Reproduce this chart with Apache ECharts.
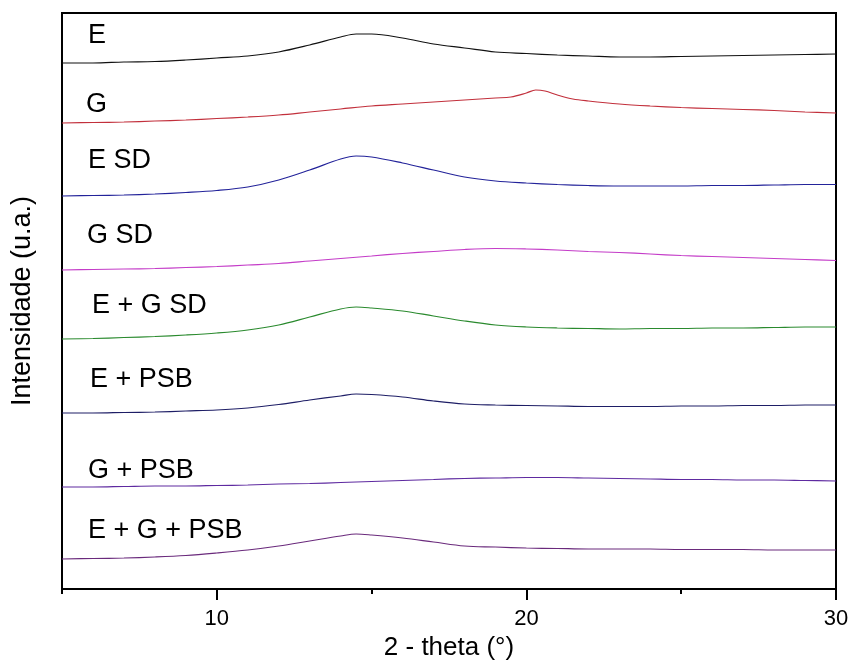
<!DOCTYPE html>
<html>
<head>
<meta charset="utf-8">
<script src="https://cdn.jsdelivr.net/npm/echarts@6/dist/echarts.min.js"></script>
<style>html,body{margin:0;padding:0;background:#fff}#c{width:850px;height:661px}</style>
</head>
<body>
<div id="c"></div>
<script>
// 2-theta positions (degrees)
var theta = [5,6,7,8,9,10,11,12,13,14,14.5,15,16,17,18,19,20,21,22,23,24,25,26,27,28,29,30];
var thetaG = [5,6,7,8,9,10,11,12,13,14,15,16,17,18,19,19.5,20,20.3,20.6,21,21.5,22,23,24,25,26,27,28,29,30];
var thetaGSD = [5,6,7,8,9,10,11,12,13,14,15,16,17,18,19,20,21,22,23,24,25,26,27,28,29,30];

// intensities (u.a., stacked offsets as in figure)
var iE     = [526,526,527,527.5,529,531,533,537,544,552,555,555,551,545,541,537,535.5,534,533,532,532,532.5,533,533.5,534,534.5,535];
var iG     = [466,466.5,467,468,469,470.5,472,474,477,480,483,485,487,489,491,492,496,499,498,494,490,488,485,483,481.5,480.5,479.5,478.5,477,476];
var iESD   = [393,393.5,394,395,396.5,398.5,402,409,419,430,433,432,426,419,412,408,406,404.5,403.5,403,403,403,403.5,403.5,404,404.5,404.5];
var iGSD   = [319,319.5,320,320.5,321.5,322.5,324,325.5,328,330.5,333,335.5,337.5,339.5,340.5,340,339,337.5,336.5,335,333.5,332.5,331.5,330.5,329.5,328.5];
var iEGSD  = [250,250.5,251.5,252.5,254,256,259,264,272,280,282,281,278,273,268,264,262,261,260.5,260,260.5,260.5,261,261,261.5,262,262];
var iEPSB  = [176,176,176.5,177,178,179,181,184.5,189,193,195,194.5,192,188,185,184,183.5,183,182.5,182.5,182.5,183,183,183.5,183.5,184,184];
var iGPSB  = [102,102,102.5,103,103,103.5,104,105,105.5,106.5,107.5,108.5,109.5,110.5,111,111.5,111.5,111,110.5,110,109.5,109.5,109,109,108.5,108];
var iEGPSB = [30,30.5,31,32,33.5,36,39,43,48,53,55,54,51,47,43,42,41,40.5,40,40,40,39.5,39.5,39.5,39,39,39];

var seriesNames = ['E','G','E SD','G SD','E + G SD','E + PSB','G + PSB','E + G + PSB'];
var seriesX = [theta, thetaG, theta, thetaGSD, theta, theta, thetaGSD, theta];
var seriesY = [iE, iG, iESD, iGSD, iEGSD, iEPSB, iGPSB, iEGPSB];
var colors = ['#111111','#c2303c','#23239a','#c43cc8','#2a8a2e','#1e1e66','#5e2aa0','#6a2a7c'];
var xTickLabels = [10,20,30];
var xMinorTicks = [5,15,25];

// label placement (pixels)
var labelPos = [[88,38],[86,107],[88,163],[87,238],[92,308],[90,382],[88,473],[88,533]];

var chart = echarts.init(document.getElementById('c'), null, {renderer:'canvas'});
var series = seriesNames.map(function(n, k){
  return {
    name: n, type: 'line', showSymbol: false, symbol: 'none', smooth: 0.35,
    data: seriesX[k].map(function(x, i){ return [x, seriesY[k][i]]; }),
    lineStyle: {color: colors[k], width: 1.2},
    itemStyle: {color: colors[k]},
    silent: true, animation: false
  };
});
var graphics = seriesNames.map(function(n, k){
  return {type:'text', left: labelPos[k][0], top: labelPos[k][1] - 16,
    style:{text:n, fill:'#000', font:'27px "Liberation Sans", Arial, sans-serif'}};
});

chart.setOption({
  animation: false,
  backgroundColor: '#fff',
  grid: {left:62, right:14, top:13, bottom:72, show:true, borderColor:'#000', borderWidth:2,
         containLabel:false, outerBoundsMode:'none'},
  xAxis: [{
    type:'value', min:5, max:30, interval:5,
    name:'2 - theta (°)', nameLocation:'middle', nameGap:46,
    nameTextStyle:{fontSize:26, color:'#000', fontFamily:'"Liberation Sans", Arial, sans-serif'},
    axisLine:{show:true, lineStyle:{color:'#000', width:2}},
    axisTick:{show:true, length:11, inside:false, customValues: xTickLabels, lineStyle:{color:'#000', width:2}},
    axisLabel:{show:true, customValues: xTickLabels, fontSize:22, color:'#000', margin:19, fontFamily:'"Liberation Sans", Arial, sans-serif'},
    splitLine:{show:false}
  },{
    type:'value', min:5, max:30, interval:5, position:'bottom',
    axisLine:{show:false},
    axisTick:{show:true, length:5, customValues: xMinorTicks, lineStyle:{color:'#000', width:2}},
    axisLabel:{show:false},
    splitLine:{show:false}
  }],
  yAxis: {
    type:'value', min:0, max:576,
    name:'Intensidade (u.a.)', nameLocation:'middle', nameGap:26, nameRotate:90,
    nameTextStyle:{fontSize:27, color:'#000', fontFamily:'"Liberation Sans", Arial, sans-serif'},
    axisLine:{show:true, lineStyle:{color:'#000', width:2}},
    axisTick:{show:false}, axisLabel:{show:false}, splitLine:{show:false}
  },
  series: series,
  graphic: graphics
});
</script>
</body>
</html>
